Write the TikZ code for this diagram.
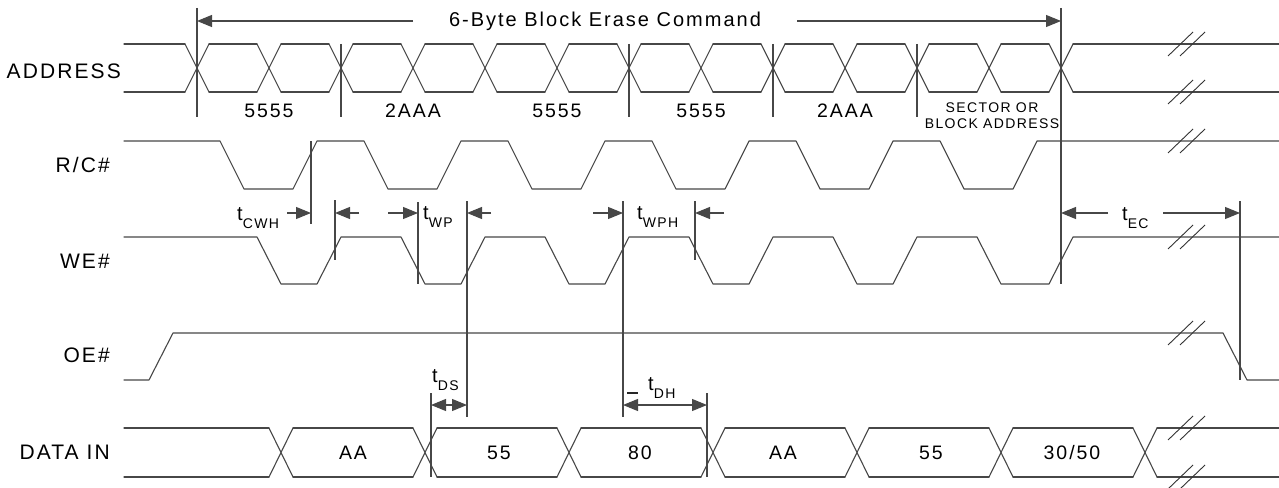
\documentclass[tikz,border=0pt]{standalone}
\usepackage{fontspec}
\setmainfont{Liberation Sans}[LetterSpace=10]
\usetikzlibrary{arrows.meta}
\newcommand{\tsym}[1]{{\fontsize{20}{20}\selectfont t}\raisebox{-8pt}{\fontsize{14}{14}\selectfont #1}}
\begin{document}
\begin{tikzpicture}[x=1pt,y=-1pt,
  sig/.style={draw=black!72,line width=1.1pt,line cap=round,line join=round},
  mk/.style={draw=black!72,line width=1.1pt},
  brk/.style={draw=black!80,line width=0.9pt},
  arr/.style={mk,-{Triangle[length=15pt,width=12pt]}},
  darr/.style={mk,{Triangle[length=15pt,width=12pt]}-{Triangle[length=15pt,width=12pt]}},
  lbl/.style={inner sep=0pt,anchor=base east,font=\fontsize{21}{21}\selectfont},
  cell/.style={inner sep=0pt,anchor=base,font=\fontsize{19.5}{19.5}\selectfont},
  tl/.style={inner sep=0pt,anchor=base west}]
\useasboundingbox (0,0) rectangle (1279,487);

% ---- signal names
\node[lbl] (lAddr) at (121,78) {ADDRESS};
\node[lbl] (lRC) at (110,172) {R/C\#};
\node[lbl] (lWE) at (110,268) {WE\#};
\node[lbl] (lOE) at (110,362) {OE\#};
\node[lbl] (lData) at (110,459) {DATA IN};

% ---- ADDRESS bus
\draw[sig] (124,44) -- (185,44) (124,92) -- (185,92);
\foreach \c in {197,269,...,1061} {
  \draw[sig] (\c-12,44) -- (\c+12,92);
  \draw[sig] (\c-12,92) -- (\c+12,44);
}
\foreach \c in {197,269,...,989} {
  \draw[sig] (\c+12,44) -- (\c+60,44);
  \draw[sig] (\c+12,92) -- (\c+60,92);
}
\draw[sig] (1073,44) -- (1279,44) (1073,92) -- (1279,92);
\node[cell] (a1) at (269,117) {5555};
\node[cell] (a2) at (413,117) {2AAA};
\node[cell] (a3) at (557,117) {5555};
\node[cell] (a4) at (701,117) {5555};
\node[cell] (a5) at (845,117) {2AAA};
\node[inner sep=0pt,anchor=base,font=\fontsize{14}{14}\selectfont] (a6a) at (992,112) {SECTOR OR};
\node[inner sep=0pt,anchor=base,font=\fontsize{14}{14}\selectfont] (a6b) at (992,128) {BLOCK ADDRESS};

% ---- command arrow
\node[inner sep=0pt,anchor=base,font=\fontsize{20}{20}\selectfont] (cmd) at (605,27) {6-Byte Block Erase Command};
\draw[arr] (413,21) -- (197,21);
\draw[arr] (797,21) -- (1061,21);

% ---- R/C#
\draw[sig] (124,141) foreach \k in {0,...,5} {
  -- ({220+144*\k},141) -- ({244+144*\k},189) -- ({293+144*\k},189) -- ({317+144*\k},141) } -- (1279,141);

% ---- WE#
\draw[sig] (124,237) foreach \k in {0,...,4} {
  -- ({257+144*\k},237) -- ({281+144*\k},284) -- ({317+144*\k},284) -- ({341+144*\k},237) }
  -- (977,237) -- (1001,284) -- (1049,284) -- (1073,237) -- (1279,237);

% ---- OE#
\draw[sig] (124,380) -- (149,380) -- (173,333) -- (1223,333) -- (1247,380) -- (1279,380);

% ---- DATA IN bus
\draw[sig] (124,428) -- (269,428) (124,477) -- (269,477);
\foreach \c in {281,425,...,1145} {
  \draw[sig] (\c-12,428) -- (\c+12,477);
  \draw[sig] (\c-12,477) -- (\c+12,428);
}
\foreach \c in {281,425,...,1001} {
  \draw[sig] (\c+12,428) -- (\c+132,428);
  \draw[sig] (\c+12,477) -- (\c+132,477);
}
\draw[sig] (1157,428) -- (1279,428) (1157,477) -- (1279,477);
\node[cell] (d1) at (353,459) {AA};
\node[cell] (d2) at (499,459) {55};
\node[cell] (d3) at (640,459) {80};
\node[cell] (d4) at (783,459) {AA};
\node[cell] (d5) at (931,459) {55};
\node[cell] (d6) at (1072,459) {30/50};

% ---- break marks
\foreach \y in {44,92,141,237,333,428,477} {
  \draw[brk] (1168,\y+12) -- (1193,\y-12);
  \draw[brk] (1180,\y+12) -- (1205,\y-12);
}

% ---- reference lines
\draw[mk] (197,8) -- (197,117);
\foreach \x in {341,629,773,917} { \draw[mk] (\x,44) -- (\x,117); }
\draw[mk] (1061,8) -- (1061,284);
\draw[mk] (311,141) -- (311,224);
\draw[mk] (335,200) -- (335,260);
\draw[mk] (418,202) -- (418,284);
\draw[mk] (467,201) -- (467,417);
\draw[mk] (623,201) -- (623,417);
\draw[mk] (695,201) -- (695,260);
\draw[mk] (1240,201) -- (1240,380);
\draw[mk] (431,393) -- (431,477);
\draw[mk] (707,393) -- (707,477);

% ---- timing arrows
\draw[arr] (287,213) -- (311,213);
\draw[arr] (359,213) -- (335,213);
\draw[arr] (388,213) -- (418,213);
\draw[arr] (491,213) -- (467,213);
\draw[arr] (593,213) -- (623,213);
\draw[arr] (724,213) -- (695,213);
\draw[arr] (1108,213) -- (1061,213);
\draw[arr] (1163,213) -- (1240,213);
\draw[darr] (431,405) -- (467,405);
\draw[darr] (623,405) -- (707,405);
\draw[line width=1.6pt,black!85] (627,393) -- (638,393);

% ---- timing labels
\node[tl] (tcwh) at (237,220) {\tsym{CWH}};
\node[tl] (twp) at (423,219) {\tsym{WP}};
\node[tl] (twph) at (637,219) {\tsym{WPH}};
\node[tl] (tec) at (1122,220) {\tsym{EC}};
\node[tl] (tds) at (432,382) {\tsym{DS}};
\node[tl] (tdh) at (648,390) {\tsym{DH}};
\end{tikzpicture}
\end{document}
